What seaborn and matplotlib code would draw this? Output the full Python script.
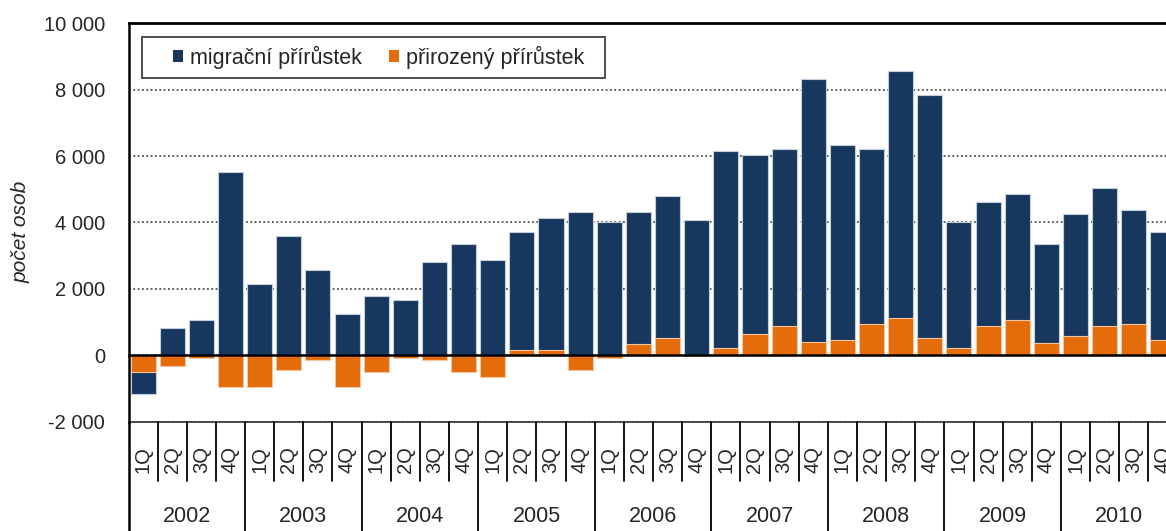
import numpy as np
import pandas as pd
import matplotlib
matplotlib.use("Agg")
import matplotlib.pyplot as plt
import matplotlib.transforms as mtransforms
from matplotlib.patches import Patch, Rectangle
import seaborn as sns

# ---------------- data ----------------
years = ["2002", "2003", "2004", "2005", "2006", "2007", "2008", "2009", "2010"]
quarters = ["1Q", "2Q", "3Q", "4Q"]
migration = [
    -680, 810, 1050, 5530,
    2140, 3600, 2570, 1230,
    1780, 1660, 2800, 3340,
    2870, 3570, 3990, 4320,
    4020, 3990, 4290, 4080,
    5930, 5385, 5320, 7930,
    5870, 5260, 7445, 7320,
    3810, 3750, 3820, 2960,
    3700, 4170, 3445, 3260,
]
natural = [
    -500, -330, -90, -940,
    -940, -450, -150, -940,
    -510, -90, -150, -510,
    -640, 150, 150, -450,
    -90, 330, 515, -30,
    210, 640, 880, 390,
    455, 940, 1120, 515,
    205, 880, 1050, 385,
    570, 880, 940, 455,
]
series_names = ["migrační přírůstek", "přirozený přírůstek"]
y_ticks = [-2000, 0, 2000, 4000, 6000, 8000, 10000]
y_label = "počet osob"

# ---------------- style ----------------
sns.set_style("white")
plt.rcParams["font.family"] = ["Liberation Sans", "DejaVu Sans"]

NAVY = "#17375E"
ORANGE = "#E46C0A"

periods = [f"{y} {q}" for y in years for q in quarters]
mig = np.array(migration, dtype=float)
nat = np.array(natural, dtype=float)
# Excel-like stacking: same-sign parts stack, opposite signs go separate ways
navy_top = mig + np.where(np.sign(nat) == np.sign(mig), nat, 0.0)
df = pd.DataFrame({"period": periods, "navy": navy_top, "nat": nat})

W, H = 1166, 531
fig = plt.figure(figsize=(W / 100, H / 100), dpi=100)
ax_l, ax_r, ax_t, ax_b = 128.5, 1177.5, 23.3, 421.7
ax = fig.add_axes([ax_l / W, 1 - ax_b / H, (ax_r - ax_l) / W, (ax_b - ax_t) / H])

sns.barplot(data=df, x="period", y="navy", order=periods, color=NAVY,
            saturation=1, width=0.86, errorbar=None, edgecolor="#c5cedb",
            linewidth=0.8, ax=ax, zorder=2)
sns.barplot(data=df, x="period", y="nat", order=periods, color=ORANGE,
            saturation=1, width=0.86, errorbar=None, edgecolor="#f3c6a2",
            linewidth=0.8, ax=ax, zorder=2)

ax.set_xlabel("")
ax.set_ylabel("")
ax.set_xlim(-0.5, len(periods) - 0.5)
ax.set_ylim(-2000, 10000)

# y axis
ax.set_yticks(y_ticks)
ax.set_yticklabels([f"{v:,}".replace(",", " ") for v in y_ticks], fontsize=14.5)
ax.tick_params(axis="y", length=0, pad=17)
ax.set_axisbelow(True)
ax.yaxis.grid(True, linestyle=(0, (1, 1.4)), color="#505050", linewidth=1.3)

# spines
ax.spines["right"].set_visible(False)
ax.spines["left"].set_color("black")
ax.spines["left"].set_linewidth(1.8)
ax.spines["top"].set_color("black")
ax.spines["top"].set_linewidth(2.0)
ax.spines["bottom"].set_position(("data", 0))
ax.spines["bottom"].set_color("black")
ax.spines["bottom"].set_linewidth(1.8)
ax.spines["bottom"].set_zorder(3)

# category tick marks on the zero line
ax.set_xticks(np.arange(-0.5, len(periods), 1.0))
ax.set_xticklabels([])
ax.tick_params(axis="x", direction="in", length=4, width=1.6, color="black")

# label table below plot
trans = mtransforms.blended_transform_factory(ax.transData, ax.transAxes)
ax.plot([0, 1], [0, 0], transform=ax.transAxes,
        color="#303030", lw=1.2, clip_on=False)
ax.plot([-0.5, -0.5], [0, -0.35], transform=trans, color="black", lw=1.8, clip_on=False)
for k in range(1, len(periods) + 1):
    xb = k - 0.5
    bottom = -0.35 if k % 4 == 0 else -0.148
    ax.plot([xb, xb], [0, bottom], transform=trans, color="black", lw=1.3, clip_on=False)
for i, p in enumerate(periods):
    ax.text(i, -0.096, quarters[i % 4], rotation=90, ha="center", va="center",
            fontsize=14.5, transform=trans, clip_on=False)
for j, y in enumerate(years):
    ax.text(4 * j + 1.5, -0.238, y, ha="center", va="center", fontsize=15.5,
            transform=trans, clip_on=False)

# y label
fig.text(21 / W, 1 - 232 / H, y_label, rotation=90, ha="center", va="center",
         fontsize=15, style="italic")

# legend
fig.patches.append(Rectangle((141.7 / W, 1 - 77.7 / H), (605 - 141.7) / W, 40.4 / H,
                             transform=fig.transFigure, facecolor="white",
                             edgecolor="#404040", lw=1.3, zorder=4))
handles = [Patch(facecolor=NAVY, edgecolor="none"), Patch(facecolor=ORANGE, edgecolor="none")]
leg = fig.legend(handles, series_names, loc="center left",
                 bbox_to_anchor=(173 / W, 1 - 57.5 / H), ncol=2, frameon=False,
                 fontsize=15.5, handlelength=0.48, handleheight=0.48,
                 handletextpad=0.32, columnspacing=1.25, borderpad=0, borderaxespad=0)
leg.set_zorder(5)

fig.savefig("out.png", dpi=100)
